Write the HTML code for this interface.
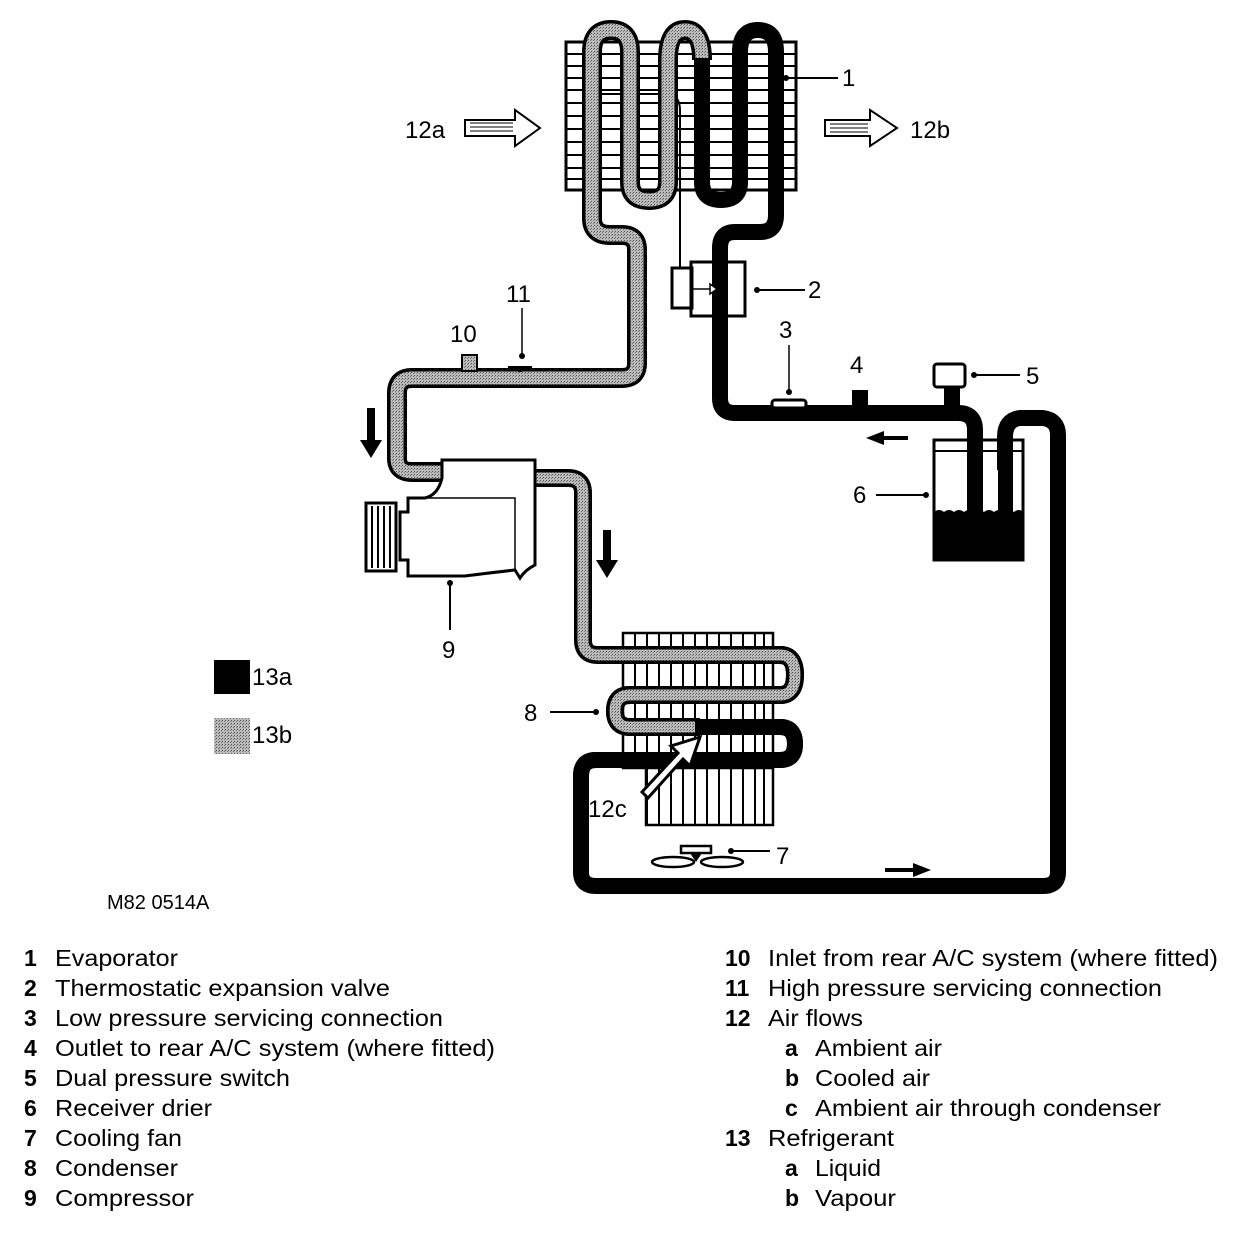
<!DOCTYPE html>
<html><head><meta charset="utf-8"><style>
html,body{margin:0;padding:0;background:#fff;}
svg{display:block;}
text{font-family:"Liberation Sans",Arial,sans-serif;fill:#000;}
</style></head><body>
<svg width="1248" height="1240" viewBox="0 0 1248 1240" xmlns="http://www.w3.org/2000/svg">
<defs>
<pattern id="g" width="3" height="3" patternUnits="userSpaceOnUse"><rect width="3" height="3" fill="#bbb"/><rect width="1" height="1" fill="#555"/><rect x="2" y="1" width="1" height="1" fill="#777"/></pattern>
</defs>
<g stroke="#000" stroke-width="3" fill="#fff">
<rect x="566" y="42" width="230" height="148"/>
</g>
<g stroke="#000" stroke-width="2">
<line x1="566" y1="54" x2="796" y2="54"/><line x1="566" y1="66" x2="796" y2="66"/><line x1="566" y1="78" x2="796" y2="78"/><line x1="566" y1="90" x2="796" y2="90"/><line x1="566" y1="103" x2="796" y2="103"/><line x1="566" y1="116" x2="796" y2="116"/><line x1="566" y1="129" x2="796" y2="129"/><line x1="566" y1="142" x2="796" y2="142"/><line x1="566" y1="155" x2="796" y2="155"/><line x1="566" y1="168" x2="796" y2="168"/><line x1="566" y1="179" x2="796" y2="179"/>
</g>
<path d="M590 94 H665 Q680 94 680 110 V280" fill="none" stroke="#000" stroke-width="2"/>
<g fill="none" stroke-linejoin="round" stroke-linecap="butt">
<path d="M702 60 Q702 30 685 30 Q668 30 668 60 V182 Q668 200 649 200 Q630 200 630 182 V52 Q630 30 611 30 Q592 30 592 52 V218 Q592 235 610 235 H622 Q637 235 637 250 V363 Q637 378 622 378 H412 Q397 378 397 393 V458 Q397 472 412 472 H445" stroke="#000" stroke-width="20"/>
<path d="M702 60 Q702 30 685 30 Q668 30 668 60 V182 Q668 200 649 200 Q630 200 630 182 V52 Q630 30 611 30 Q592 30 592 52 V218 Q592 235 610 235 H622 Q637 235 637 250 V363 Q637 378 622 378 H412 Q397 378 397 393 V458 Q397 472 412 472 H445" stroke="url(#g)" stroke-width="13"/>
<path d="M530 478 H568 Q583 478 583 493 V640 Q583 655 598 655 H780 Q795 655 795 675 Q795 695 780 695 H630 Q615 695 615 711 Q615 727 630 727 H700" stroke="#000" stroke-width="18"/>
<path d="M530 478 H568 Q583 478 583 493 V640 Q583 655 598 655 H780 Q795 655 795 675 Q795 695 780 695 H630 Q615 695 615 711 Q615 727 630 727 H700" stroke="url(#g)" stroke-width="11"/>
</g>
<g fill="none" stroke="#000" stroke-width="16" stroke-linejoin="round">
<path d="M702 58 V182 Q702 200 721 200 Q740 200 740 182 V52 Q740 30 758 30 Q776 30 776 52 V215 Q776 232 760 232 H735 Q720 232 720 248 V398 Q720 413 735 413 H958 Q975 413 975 430 V525"/>
<path d="M695 727 H780 Q795 727 795 744 Q795 760 780 760 H596 Q581 760 581 776 V872 Q581 886 596 886 H1043 Q1058 886 1058 872 V435 Q1058 420 1043 418 H1020 Q1005 420 1005 437 V470"/>
<path d="M952 413 V388"/>
</g>
<path d="M465 120 H515 V110 L540 128 L515 146 V136 H465 Z" fill="#fff" stroke="#000" stroke-width="2"/>
<path d="M470 123 H513 M470 127 H513 M470 131 H513" stroke="#000" stroke-width="1"/>
<path d="M825 120 H870 V110 L897 128 L870 146 V136 H825 Z" fill="#fff" stroke="#000" stroke-width="2"/>
<path d="M830 124 H868 M830 128 H868 M830 132 H868" stroke="#000" stroke-width="1"/>
<text x="405" y="138" font-size="24">12a</text>
<text x="910" y="138" font-size="24">12b</text>
<circle cx="786" cy="78" r="3"/><line x1="786" y1="78" x2="838" y2="78" stroke="#000" stroke-width="2"/>
<text x="842" y="86" font-size="24">1</text>
<rect x="672" y="268" width="20" height="40" fill="#fff" stroke="#000" stroke-width="3"/>
<rect x="691" y="262" width="54" height="54" fill="none" stroke="#000" stroke-width="3"/>
<line x1="690" y1="289" x2="712" y2="289" stroke="#000" stroke-width="1.5"/>
<path d="M710 284 L717 289 L710 294Z" fill="#fff" stroke="#000" stroke-width="1.5"/>
<circle cx="757" cy="290" r="3"/><line x1="757" y1="290" x2="805" y2="290" stroke="#000" stroke-width="2"/>
<text x="808" y="298" font-size="24">2</text>
<rect x="772" y="400" width="34" height="8" rx="3" fill="#fff" stroke="#000" stroke-width="3"/>
<circle cx="789" cy="392" r="3"/><line x1="789" y1="345" x2="789" y2="392" stroke="#000" stroke-width="1.5"/>
<text x="779" y="338" font-size="24">3</text>
<rect x="852" y="390" width="16" height="20"/>
<text x="850" y="373" font-size="24">4</text>
<rect x="934" y="364" width="31" height="23" rx="3" fill="#fff" stroke="#000" stroke-width="3"/>
<circle cx="974" cy="375" r="3"/><line x1="974" y1="375" x2="1020" y2="375" stroke="#000" stroke-width="2"/>
<text x="1026" y="384" font-size="24">5</text>
<rect x="934" y="440" width="89" height="120" fill="none" stroke="#000" stroke-width="3"/>
<line x1="934" y1="451" x2="1023" y2="451" stroke="#000" stroke-width="2"/>
<rect x="934" y="512" width="89" height="48"/>
<path d="M934 512 q5 -4 10 0 q5 -4 10 0 q5 -4 10 0 q5 -4 10 0 q5 -4 10 0 q5 -4 10 0 q5 -4 10 0 q5 -4 10 0 q5 -4 9 0" fill="#000"/>
<rect x="998" y="437" width="15" height="80"/>
<circle cx="926" cy="495" r="3"/><line x1="876" y1="495" x2="926" y2="495" stroke="#000" stroke-width="2"/>
<text x="853" y="503" font-size="24">6</text>
<path d="M908 436 H884 V431 L866 438 L884 445 V440 H908Z"/>
<path d="M885 868 H913 V863 L931 870 L913 877 V872 H885Z"/>
<path d="M367 408 H375 V440 H382 L371 458 L360 440 H367Z"/>
<path d="M603 530 H611 V560 H618 L607 578 L596 560 H603Z"/>
<rect x="462" y="355" width="15" height="16" fill="url(#g)" stroke="#000" stroke-width="2"/>
<text x="450" y="342" font-size="24">10</text>
<path d="M508 368 H532 M520 368 V372" stroke="#000" stroke-width="4"/>
<circle cx="522" cy="356" r="3"/><line x1="522" y1="308" x2="522" y2="356" stroke="#000" stroke-width="1.5"/>
<text x="506" y="302" font-size="24">11</text>
<path d="M442 460 H535 V565 Q525 570 520 578 L515 570 Q480 574 465 576 H408 V560 H400 V512 H408 V498 H425 Q438 495 442 478 Z" fill="#fff" stroke="#000" stroke-width="3"/>
<path d="M425 498 H515 V570" fill="none" stroke="#000" stroke-width="1.5"/>
<rect x="366" y="503" width="30" height="68" fill="#fff" stroke="#000" stroke-width="3"/>
<g stroke="#000" stroke-width="2"><line x1="372" y1="506" x2="372" y2="568"/><line x1="378" y1="506" x2="378" y2="568"/><line x1="384" y1="506" x2="384" y2="568"/><line x1="390" y1="506" x2="390" y2="568"/></g>
<circle cx="450" cy="583" r="3"/><line x1="450" y1="583" x2="450" y2="630" stroke="#000" stroke-width="2"/>
<text x="442" y="658" font-size="24">9</text>
<g fill="none" stroke="#000" stroke-width="2.5">
<rect x="623" y="633" width="150" height="135"/>
<path d="M646 768 V825 H773 V768"/>
</g>
<g stroke="#000" stroke-width="2">
<line x1="635" y1="633" x2="635" y2="768"/><line x1="647" y1="633" x2="647" y2="825"/><line x1="659" y1="633" x2="659" y2="825"/><line x1="671" y1="633" x2="671" y2="825"/><line x1="683" y1="633" x2="683" y2="825"/><line x1="695" y1="633" x2="695" y2="825"/><line x1="707" y1="633" x2="707" y2="825"/><line x1="719" y1="633" x2="719" y2="825"/><line x1="731" y1="633" x2="731" y2="825"/><line x1="743" y1="633" x2="743" y2="825"/><line x1="755" y1="633" x2="755" y2="825"/><line x1="764" y1="633" x2="764" y2="825"/>
</g>
<g fill="none" stroke-linejoin="round">
<path d="M598 655 H780 Q795 655 795 675 Q795 695 780 695 H630 Q615 695 615 711 Q615 727 630 727 H700" stroke="#000" stroke-width="18"/>
<path d="M598 655 H780 Q795 655 795 675 Q795 695 780 695 H630 Q615 695 615 711 Q615 727 630 727 H700" stroke="url(#g)" stroke-width="11"/>
<path d="M695 727 H780 Q795 727 795 744 Q795 760 780 760 H596 Q581 760 581 776" stroke="#000" stroke-width="16"/>
</g>
<path d="M642 792 L678 753 L671 746 L700 737 L690 766 L683 759 L648 798 Z" fill="#fff" stroke="#000" stroke-width="3"/>
<text x="588" y="817" font-size="24">12c</text>
<circle cx="596" cy="712" r="3"/><line x1="550" y1="712" x2="596" y2="712" stroke="#000" stroke-width="2"/>
<text x="524" y="721" font-size="24">8</text>
<rect x="681" y="846" width="30" height="7" fill="#fff" stroke="#000" stroke-width="2.5"/>
<path d="M690 853 L696 862 L702 853Z"/>
<ellipse cx="673" cy="862" rx="21" ry="5" fill="#fff" stroke="#000" stroke-width="2.5"/>
<ellipse cx="722" cy="862" rx="21" ry="5" fill="#fff" stroke="#000" stroke-width="2.5"/>
<circle cx="731" cy="851" r="3"/><line x1="731" y1="851" x2="770" y2="851" stroke="#000" stroke-width="2"/>
<text x="776" y="864" font-size="24">7</text>
<rect x="214" y="660" width="36" height="34"/>
<text x="252" y="685" font-size="24">13a</text>
<rect x="214" y="718" width="36" height="36" fill="url(#g)"/>
<text x="252" y="743" font-size="24">13b</text>
<text x="107" y="909" font-size="20">M82 0514A</text>
<g font-size="23">
<text x="24" y="966" font-weight="bold">1</text><text x="55" y="966" textLength="123" lengthAdjust="spacingAndGlyphs">Evaporator</text>
<text x="24" y="996" font-weight="bold">2</text><text x="55" y="996" textLength="335" lengthAdjust="spacingAndGlyphs">Thermostatic expansion valve</text>
<text x="24" y="1026" font-weight="bold">3</text><text x="55" y="1026" textLength="388" lengthAdjust="spacingAndGlyphs">Low pressure servicing connection</text>
<text x="24" y="1056" font-weight="bold">4</text><text x="55" y="1056" textLength="440" lengthAdjust="spacingAndGlyphs">Outlet to rear A/C system (where fitted)</text>
<text x="24" y="1086" font-weight="bold">5</text><text x="55" y="1086" textLength="235" lengthAdjust="spacingAndGlyphs">Dual pressure switch</text>
<text x="24" y="1116" font-weight="bold">6</text><text x="55" y="1116" textLength="157" lengthAdjust="spacingAndGlyphs">Receiver drier</text>
<text x="24" y="1146" font-weight="bold">7</text><text x="55" y="1146" textLength="127" lengthAdjust="spacingAndGlyphs">Cooling fan</text>
<text x="24" y="1176" font-weight="bold">8</text><text x="55" y="1176" textLength="123" lengthAdjust="spacingAndGlyphs">Condenser</text>
<text x="24" y="1206" font-weight="bold">9</text><text x="55" y="1206" textLength="139" lengthAdjust="spacingAndGlyphs">Compressor</text>
<text x="725" y="966" font-weight="bold">10</text><text x="768" y="966" textLength="450" lengthAdjust="spacingAndGlyphs">Inlet from rear A/C system (where fitted)</text>
<text x="725" y="996" font-weight="bold">11</text><text x="768" y="996" textLength="394" lengthAdjust="spacingAndGlyphs">High pressure servicing connection</text>
<text x="725" y="1026" font-weight="bold">12</text><text x="768" y="1026" textLength="95" lengthAdjust="spacingAndGlyphs">Air flows</text>
<text x="785" y="1056" font-weight="bold">a</text><text x="815" y="1056" textLength="127" lengthAdjust="spacingAndGlyphs">Ambient air</text>
<text x="785" y="1086" font-weight="bold">b</text><text x="815" y="1086" textLength="115" lengthAdjust="spacingAndGlyphs">Cooled air</text>
<text x="785" y="1116" font-weight="bold">c</text><text x="815" y="1116" textLength="346" lengthAdjust="spacingAndGlyphs">Ambient air through condenser</text>
<text x="725" y="1146" font-weight="bold">13</text><text x="768" y="1146" textLength="126" lengthAdjust="spacingAndGlyphs">Refrigerant</text>
<text x="785" y="1176" font-weight="bold">a</text><text x="815" y="1176" textLength="66" lengthAdjust="spacingAndGlyphs">Liquid</text>
<text x="785" y="1206" font-weight="bold">b</text><text x="815" y="1206" textLength="81" lengthAdjust="spacingAndGlyphs">Vapour</text>
</g>
</svg>
</body></html>
